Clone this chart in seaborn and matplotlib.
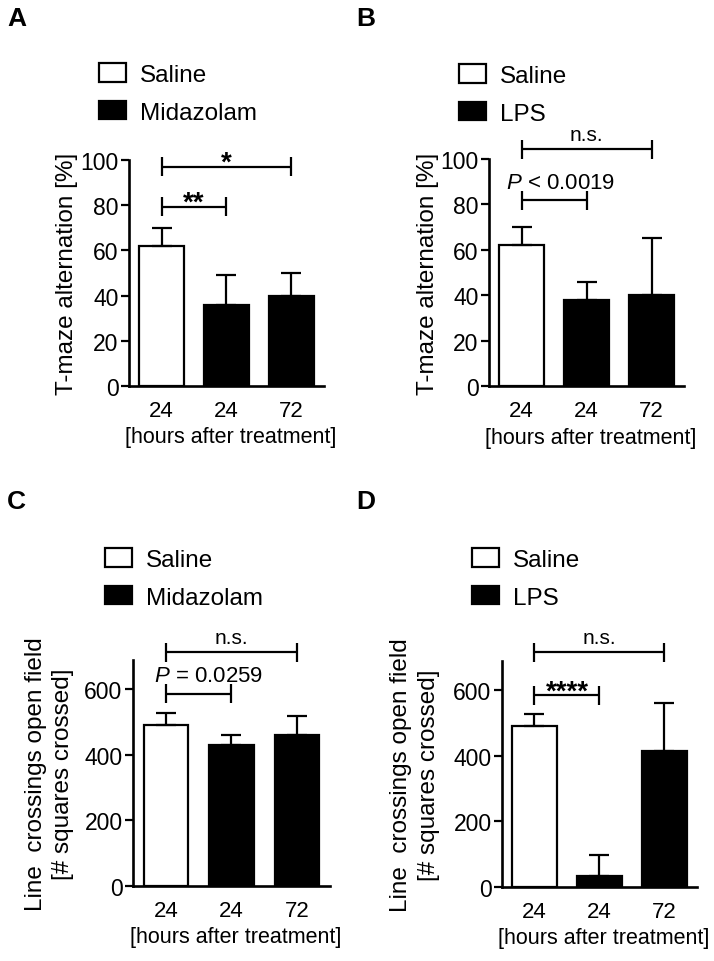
#!/usr/bin/env python3
"""
Four bar panels: T-maze alternation and open field line crossings.
"""

import numpy as np
import pandas as pd

import matplotlib
matplotlib.use("Agg")
import matplotlib.pyplot as plt
from matplotlib.patches import Patch
import seaborn as sns

# --- data -------------------------------------------------------------
hours = ["24", "24", "72"]

tmaze_mid_mean = [62, 36, 40]
tmaze_mid_err = [8, 13, 10]
tmaze_lps_mean = [62, 38, 40]
tmaze_lps_err = [8, 8, 25]

open_mid_mean = [492, 429, 460]
open_mid_err = [36, 32, 58]
open_lps_mean = [491, 34, 415]
open_lps_err = [38, 65, 147]

W, H = 714, 962


def fig_rect(left, right, bottom, top):
    return [left / W, 1 - bottom / H, (right - left) / W, (bottom - top) / H]


def bracket(ax, x0, x1, y, label, dx_pt, dy_pt, half, size=16, weight="normal"):
    kw = dict(color="black", lw=1.6, clip_on=False, solid_capstyle="butt")
    ax.plot([x0, x1], [y, y], **kw)
    ax.plot([x0, x0], [y - half, y + half], **kw)
    ax.plot([x1, x1], [y - half, y + half], **kw)
    ax.annotate(label, xy=((x0 + x1) / 2, y), xytext=(dx_pt, dy_pt),
                textcoords="offset points", ha="center", va="baseline",
                fontsize=size, fontweight=weight, annotation_clip=False)


def panel(fig, rect, letter, letter_pos, drug, means, errs, ylim, yticks,
          ylabel, ylabel_x, leg_pos, brackets):
    ax = fig.add_axes(rect)
    treat = ["Saline", drug, drug]
    df = pd.DataFrame({
        "key": [f"{t} {h}" for t, h in zip(treat, ["a", "b", "c"])],
        "treatment": treat,
        "mean": means,
    })
    sns.barplot(data=df, x="key", y="mean", hue="treatment",
                palette={"Saline": "white", drug: "black"}, dodge=False,
                width=0.68, edgecolor="black", linewidth=1.6, errorbar=None,
                legend=False, ax=ax)
    ax.errorbar(range(3), means, yerr=[np.zeros(3), errs], fmt="none",
                ecolor="black", elinewidth=1.6, capsize=7.5, capthick=1.6,
                zorder=1)
    ax.set_xlim(-0.5, 2.5)
    ax.set_ylim(*ylim)
    ax.set_yticks(yticks)
    ax.set_xticks(range(3))
    ax.set_xticklabels(hours)
    sns.despine(ax=ax)
    for s in ["left", "bottom"]:
        ax.spines[s].set_linewidth(1.9)
    ax.tick_params(axis="y", length=6, width=1.6, pad=1.5, labelsize=16.5)
    ax.tick_params(axis="x", length=0, pad=10, labelsize=16)

    ax.set_ylabel(ylabel, fontsize=17.5, linespacing=1.3)
    ax.yaxis.label.set_va("center")
    ax.yaxis.set_label_coords(ylabel_x, 0.5)
    ax.set_xlabel("[hours after treatment]", fontsize=15.5)
    ax.xaxis.label.set_va("center")
    ax.xaxis.set_label_coords(0.52, -0.225)

    handles = [Patch(facecolor="white", edgecolor="black", lw=1.6),
               Patch(facecolor="black", edgecolor="black", lw=1.6)]
    ax.legend(handles, ["Saline", drug], loc="upper left",
              bbox_to_anchor=(leg_pos[0] / W, 1 - leg_pos[1] / H),
              bbox_transform=fig.transFigure, frameon=False, fontsize=17.5,
              handlelength=1.1, handleheight=0.8, handletextpad=0.6,
              labelspacing=0.62, borderpad=0, borderaxespad=0)

    half = 9.5 * (ylim[1] - ylim[0]) / (rect[3] * H)
    for x0, x1, y, label, dx, dy, size, weight in brackets:
        bracket(ax, x0, x1, y, label, dx, dy, half, size, weight)

    fig.text(letter_pos[0] / W, 1 - letter_pos[1] / H, letter,
             fontsize=19, fontweight="bold", ha="left", va="top")
    return ax


def main() -> int:
    sns.set_theme(style="ticks")
    plt.rcParams["font.family"] = ["Liberation Sans", "DejaVu Sans"]
    plt.rcParams["mathtext.fontset"] = "custom"
    plt.rcParams["mathtext.rm"] = "Liberation Sans"
    plt.rcParams["mathtext.it"] = "Liberation Sans:italic"
    plt.rcParams["text.color"] = "black"
    plt.rcParams["axes.labelcolor"] = "black"
    plt.rcParams["xtick.color"] = "black"
    plt.rcParams["ytick.color"] = "black"
    plt.rcParams["axes.edgecolor"] = "black"

    fig = plt.figure(figsize=(W / 100, H / 100), dpi=100)

    panel(fig, fig_rect(129, 324, 387, 161), "A", (7, 7), "Midazolam",
          tmaze_mid_mean, tmaze_mid_err, (0, 100), [0, 20, 40, 60, 80, 100],
          "T-maze alternation [%]", -0.318, (99, 64),
          [(0, 2, 97, "*", 0, -2, 20, "bold"),
           (0, 1, 79.3, "**", 0, -2, 20, "bold")])

    panel(fig, fig_rect(489, 684, 387, 160), "B", (356, 7), "LPS",
          tmaze_lps_mean, tmaze_lps_err, (0, 100), [0, 20, 40, 60, 80, 100],
          "T-maze alternation [%]", -0.313, (459, 65),
          [(0, 2, 104.4, "n.s.", 0, 6.5, 15, "normal"),
           (0, 1, 81.9, r"$\it{P}$ < 0.0019", 5, 9, 16, "normal")])

    panel(fig, fig_rect(133, 330, 887, 661), "C", (7, 490), "Midazolam",
          open_mid_mean, open_mid_err, (0, 690), [0, 200, 400, 600],
          "Line  crossings open field\n[# squares crossed]", -0.426,
          (105, 549),
          [(0, 2, 714, "n.s.", 0, 6.5, 15, "normal"),
           (0, 1, 587, r"$\it{P}$ = 0.0259", 7, 9, 16, "normal")])

    panel(fig, fig_rect(502, 697, 888, 662), "D", (356, 490), "LPS",
          open_lps_mean, open_lps_err, (0, 690), [0, 200, 400, 600],
          "Line  crossings open field\n[# squares crossed]", -0.446,
          (472, 549),
          [(0, 2, 716, "n.s.", 0, 6.5, 15, "normal"),
           (0, 1, 585, "****", 0, -2, 20, "bold")])

    fig.savefig("out.png", dpi=100, facecolor="white")
    return 0


if __name__ == "__main__":
    raise SystemExit(main())
